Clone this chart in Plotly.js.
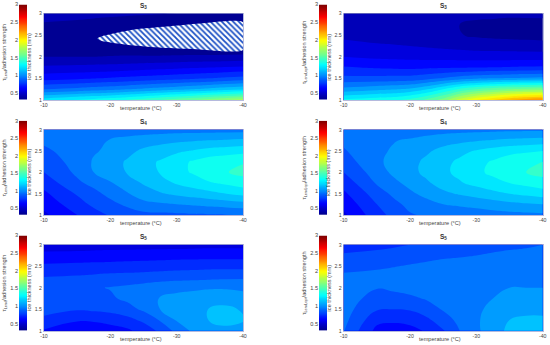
<!DOCTYPE html>
<html>
<head>
<meta charset="utf-8">
<script src="https://cdn.plot.ly/plotly-3.0.1.min.js"></script>
<style>html,body{margin:0;padding:0;background:#fff}#chart{width:550px;height:345px}</style>
</head>
<body>
<div id="chart"></div>
<script>
// Axes values
const temperature = [-10, -15, -17.5, -20, -22.5, -25, -27.5, -30, -32.5, -35, -37.5, -40];
const thickness = [1, 1.25, 1.5, 1.75, 2, 2.25, 2.5, 2.75, 3];
const tempTicks = [-10, -20, -30, -40];
const tempTickText = ['-10', '-20', '-30', '-40'];
const thickTicks = [1, 1.5, 2, 2.5, 3];
const thickTickText = ['1', '1.5', '2', '2.5', '3'];
const barTicks = [0.5, 1, 1.5, 2, 2.5, 3];
const barTickText = ['0.5', '1', '1.5', '2', '2.5', '3'];
const barLevels = [0.3,0.4,0.5,0.6,0.7,0.8,0.9,1.0,1.1,1.2,1.3,1.4,1.5,1.6,1.7,1.8,1.9,2.0,2.1,2.2,2.3,2.4,2.5,2.6,2.7,2.8,2.9,3.0];

// Each inner list is one temperature column, thickness ascending
const s3Left = [
 [1.25,.90,.66,.52,.40,.36,.36,.39,.44],
 [1.31,.93,.68,.53,.40,.35,.35,.38,.43],
 [1.34,.95,.695,.535,.40,.34,.34,.37,.425],
 [1.37,.97,.71,.54,.405,.33,.33,.36,.42],
 [1.41,.995,.725,.55,.41,.32,.32,.35,.415],
 [1.45,1.02,.74,.56,.41,.31,.31,.34,.41],
 [1.50,1.045,.755,.57,.41,.305,.30,.33,.405],
 [1.55,1.07,.77,.58,.415,.30,.29,.32,.40],
 [1.60,1.10,.785,.59,.42,.295,.285,.31,.395],
 [1.65,1.13,.80,.60,.42,.29,.28,.30,.39],
 [1.70,1.16,.82,.61,.425,.285,.275,.295,.395],
 [1.75,1.19,.84,.62,.43,.28,.27,.29,.40]
];
const s3Right = [
 [1.32,1.03,.83,.71,.60,.53,.48,.46,.47],
 [1.36,1.07,.83,.69,.58,.51,.47,.46,.46],
 [1.38,1.09,.835,.685,.575,.505,.47,.46,.46],
 [1.43,1.12,.84,.68,.57,.50,.47,.46,.46],
 [1.52,1.19,.87,.685,.565,.49,.45,.44,.45],
 [1.65,1.30,.91,.69,.56,.48,.43,.42,.44],
 [1.85,1.42,.95,.695,.555,.47,.405,.40,.435],
 [2.00,1.50,.98,.70,.55,.46,.385,.38,.43],
 [2.10,1.56,1.00,.705,.55,.455,.375,.375,.425],
 [2.20,1.60,1.01,.71,.55,.45,.37,.37,.42],
 [2.26,1.63,1.02,.715,.55,.445,.365,.365,.425],
 [2.30,1.65,1.03,.72,.55,.44,.36,.36,.43]
];
const s4Left = [
 [.58,.63,.68,.74,.80,.84,.88,.92,.92],
 [.70,.76,.81,.88,.92,.94,.95,.96,.93],
 [.76,.82,.87,.93,1.00,1.01,.99,.98,.935],
 [.81,.87,.93,.99,1.055,1.06,1.02,1.005,.94],
 [.84,.92,.99,1.05,1.105,1.11,1.07,1.03,.945],
 [.87,.97,1.05,1.11,1.16,1.165,1.12,1.05,.95],
 [.875,.985,1.09,1.16,1.205,1.21,1.15,1.065,.955],
 [.88,1.00,1.12,1.21,1.27,1.27,1.18,1.08,.96],
 [.885,1.015,1.145,1.25,1.31,1.31,1.21,1.09,.96],
 [.89,1.03,1.17,1.29,1.37,1.35,1.24,1.10,.96],
 [.895,1.045,1.20,1.32,1.395,1.37,1.255,1.11,.96],
 [.90,1.06,1.23,1.35,1.43,1.39,1.27,1.12,.96]
];
const s4Right = [
 [.58,.63,.68,.74,.80,.85,.89,.92,.92],
 [.76,.80,.85,.91,.95,.98,.98,.98,.94],
 [.83,.87,.92,.975,1.02,1.03,1.01,.995,.945],
 [.89,.93,.98,1.03,1.07,1.07,1.04,1.01,.95],
 [.915,.965,1.03,1.085,1.125,1.12,1.085,1.035,.955],
 [.93,1.00,1.08,1.14,1.18,1.17,1.13,1.06,.96],
 [.94,1.015,1.11,1.19,1.225,1.22,1.17,1.075,.965],
 [.95,1.03,1.14,1.23,1.28,1.27,1.21,1.09,.97],
 [.96,1.05,1.17,1.27,1.32,1.31,1.24,1.105,.975],
 [.97,1.07,1.20,1.30,1.37,1.35,1.27,1.12,.98],
 [.975,1.085,1.225,1.33,1.40,1.375,1.285,1.13,.98],
 [.98,1.10,1.25,1.36,1.43,1.40,1.30,1.14,.98]
];
const s5Left = [
 [.69,.78,.83,.85,.85,.80,.72,.63,.55],
 [.64,.71,.81,.86,.87,.81,.73,.635,.55],
 [.64,.715,.82,.875,.89,.82,.735,.64,.555],
 [.65,.74,.83,.885,.905,.83,.74,.64,.56],
 [.68,.77,.86,.92,.92,.835,.745,.645,.56],
 [.74,.82,.92,.96,.94,.84,.75,.65,.56],
 [.82,.91,1.00,1.005,.96,.85,.755,.655,.56],
 [.93,1.01,1.04,1.03,.97,.86,.76,.66,.56],
 [1.02,1.06,1.07,1.045,.98,.865,.765,.66,.565],
 [1.07,1.105,1.105,1.06,.99,.87,.77,.66,.57],
 [1.075,1.13,1.12,1.06,.99,.875,.77,.66,.57],
 [1.06,1.11,1.09,1.04,.98,.88,.77,.66,.57]
];
const s5Right = [
 [.905,.93,.94,.95,.96,.92,.87,.81,.76],
 [.67,.73,.81,.86,.905,.94,.88,.83,.77],
 [.66,.715,.80,.865,.92,.945,.895,.84,.785],
 [.67,.73,.81,.88,.94,.95,.91,.85,.80],
 [.71,.78,.85,.91,.955,.96,.925,.865,.815],
 [.79,.85,.91,.95,.97,.97,.94,.88,.83],
 [.90,.93,.96,.97,.98,.975,.945,.89,.84],
 [.98,.985,.985,.985,.98,.975,.95,.90,.85],
 [1.06,1.05,1.02,1.00,.99,.98,.955,.915,.86],
 [1.12,1.10,1.06,1.03,1.00,.985,.96,.93,.87],
 [1.15,1.12,1.07,1.03,1.00,.985,.96,.93,.885],
 [1.15,1.12,1.07,1.03,1.00,.98,.96,.93,.90]
];

// Hatched area of the first panel (no valid result)
const hatchT = [-18, -18.6, -20, -23.5, -28.5, -33.5, -40];
const hatchUpper = [2.42, 2.47, 2.52, 2.63, 2.70, 2.77, 2.80];
const hatchLower = [2.42, 2.37, 2.33, 2.26, 2.20, 2.17, 2.155];

const panelData = [s3Left, s3Right, s4Left, s4Right, s5Left, s5Right];
const panelTitles = ['S<sub>3</sub>', 'S<sub>3</sub>', 'S<sub>4</sub>', 'S<sub>4</sub>', 'S<sub>5</sub>', 'S<sub>5</sub>'];
const barTitles = ['τ<sub>Lend</sub>/adhesion strength', 'τ<sub>Lend,opt</sub>/adhesion strength',
                   'τ<sub>Lend</sub>/adhesion strength', 'τ<sub>Lend,opt</sub>/adhesion strength',
                   'τ<sub>Lend</sub>/adhesion strength', 'τ<sub>Lend,opt</sub>/adhesion strength'];
const xTitle = 'temperature (°C)';
const yTitle = 'ice thickness (mm)';

const jet = [[0,'rgb(0,0,128)'],[0.125,'rgb(0,0,255)'],[0.375,'rgb(0,255,255)'],[0.625,'rgb(255,255,0)'],[0.875,'rgb(255,0,0)'],[1,'rgb(128,0,0)']];

const W = 550, H = 345;
const plotLeft = [44, 343.7], plotRight = [243, 542.7];
const barLeft = [19, 319], barRight = [27, 327];
const rows = [[13.5, 100], [129.7, 215], [244.7, 330.7]];
const barTop = [4.5, 120.7, 235.5];
const font = {family: '"Liberation Sans", Arial, sans-serif', size: 5.6, color: '#444'};
const plotTickFont = {family: font.family, size: 5.2, color: '#444'};

const traces = [], annotations = [];
const layout = {
  width: W, height: H, margin: {l:0, r:0, t:0, b:0},
  paper_bgcolor: '#fff', plot_bgcolor: '#fff', showlegend: false, font, annotations
};

for (let i = 0; i < 6; i++) {
  const col = i % 2, row = Math.floor(i / 2);
  const n = i + 1, m = i + 7;
  const xD = [plotLeft[col] / W, plotRight[col] / W];
  const yD = [1 - rows[row][1] / H, 1 - rows[row][0] / H];
  traces.push({
    type: 'contour', x: temperature, y: thickness, z: panelData[i], transpose: true,
    xaxis: 'x' + n, yaxis: 'y' + n, zmin: 0.3, zmax: 3, colorscale: jet, showscale: false,
    contours: {coloring: 'fill', start: 0.3, end: 3, size: 0.1, showlines: false},
    line: {width: 0, smoothing: 1.3}, hoverinfo: 'skip'
  });
  layout['xaxis' + n] = {
    domain: xD, anchor: 'y' + n, range: [-10, -40], tickvals: tempTicks, ticktext: tempTickText, ticklen: 0,
    tickfont: plotTickFont, showgrid: false, zeroline: false, ticks: '', showline: true, mirror: true,
    linecolor: 'rgba(70,80,170,.4)', linewidth: 1, automargin: false
  };
  layout['yaxis' + n] = {
    domain: yD, anchor: 'x' + n, range: [1, 3], tickvals: thickTicks, ticktext: thickTickText, ticklen: 0,
    tickfont: plotTickFont, showgrid: false, zeroline: false, ticks: '', showline: true, mirror: true,
    linecolor: 'rgba(70,80,170,.4)', linewidth: 1, automargin: false
  };
  // colour bar drawn as its own small heatmap
  traces.push({
    type: 'heatmap', x: [0, 1], y: barLevels, z: barLevels.map(v => [v, v]),
    xaxis: 'x' + m, yaxis: 'y' + m, zmin: 0.3, zmax: 3, colorscale: jet, showscale: false,
    zsmooth: 'best', hoverinfo: 'skip'
  });
  layout['xaxis' + m] = {
    domain: [barLeft[col] / W, barRight[col] / W], anchor: 'y' + m, range: [0, 1],
    visible: false, fixedrange: true
  };
  layout['yaxis' + m] = {
    domain: [1 - rows[row][1] / H, 1 - barTop[row] / H], anchor: 'x' + m, range: [0.3, 3],
    tickvals: barTicks, ticktext: barTickText, ticklen: 0, ticks: '', tickfont: font,
    showgrid: false, zeroline: false, automargin: false,
    title: {text: barTitles[i], font, standoff: 3}
  };
  annotations.push({
    xref: 'paper', yref: 'paper', x: (plotLeft[col] + plotRight[col]) / 2 / W,
    y: 1 - (rows[row][0] - 1.5) / H, yanchor: 'bottom', xanchor: 'center', showarrow: false,
    text: '<b>' + panelTitles[i] + '</b>', font: {family: font.family, size: 6.5, color: '#333'}
  });
  annotations.push({
    xref: 'paper', yref: 'paper', x: ((plotLeft[col] + plotRight[col]) / 2 - 3) / W,
    y: 1 - (rows[row][1] + 8) / H, yanchor: 'middle', xanchor: 'center', showarrow: false,
    text: xTitle, font
  });
  annotations.push({
    xref: 'paper', yref: 'paper', x: (plotLeft[col] - 15) / W,
    y: 1 - ((rows[row][0] + rows[row][1]) / 2) / H, yanchor: 'middle', xanchor: 'center', showarrow: false,
    textangle: -90, text: yTitle, font
  });
}

traces.push({
  type: 'scatter', mode: 'lines', xaxis: 'x1', yaxis: 'y1',
  x: hatchT.concat(hatchT.slice().reverse()),
  y: hatchUpper.concat(hatchLower.slice().reverse()),
  fill: 'toself', line: {width: 0, shape: 'spline', smoothing: 0.6}, hoverinfo: 'skip',
  fillcolor: 'white',
  fillpattern: {shape: '\\', size: 4, solidity: 0.45, fgcolor: '#1a4fc4', bgcolor: 'white'}
});

Plotly.newPlot('chart', traces, layout, {displayModeBar: false, staticPlot: true});
</script>
</body>
</html>
